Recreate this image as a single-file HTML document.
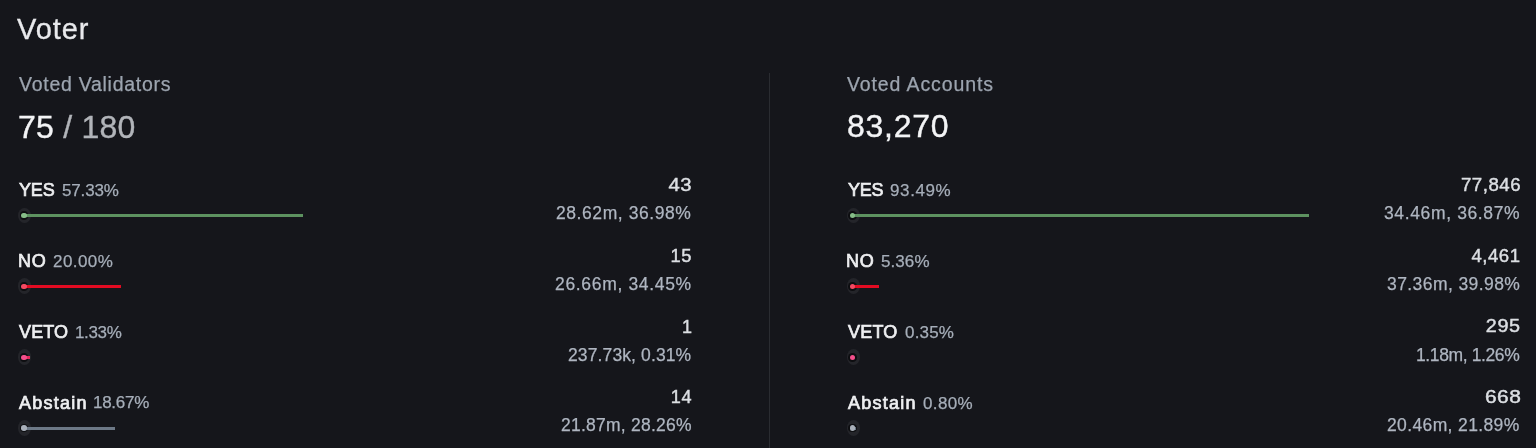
<!DOCTYPE html>
<html><head><meta charset="utf-8">
<style>
html,body{margin:0;padding:0;}
body{width:1536px;height:448px;background:#15161b;font-family:"Liberation Sans",sans-serif;position:relative;overflow:hidden;}
.a{position:absolute;white-space:nowrap;line-height:1;will-change:transform;}
.title{font-size:29px;-webkit-text-stroke:0.3px #e8e9ec;color:#e8e9ec;}
.sub{font-size:19.5px;-webkit-text-stroke:0.25px #9ca4af;color:#9ca4af;}
.bigL{font-size:32px;-webkit-text-stroke:0.4px currentColor;color:#f3f4f6;}
.bigR{font-size:32px;-webkit-text-stroke:0.4px currentColor;color:#f3f4f6;}
.lbl{font-size:18px;-webkit-text-stroke:0.7px #eeeff1;color:#eeeff1;}
.pct{font-size:17px;-webkit-text-stroke:0.25px #a6aeb9;color:#a6aeb9;}
.cnt{font-size:18px;-webkit-text-stroke:0.45px #dcdfe3;color:#dcdfe3;}
.amt{font-size:17.5px;-webkit-text-stroke:0.25px #afb6c1;color:#afb6c1;}
.dv{position:absolute;left:769px;top:72.5px;width:1px;height:376px;background:#2a2c31;}
.bar{position:absolute;height:3px;}
.ring{position:absolute;width:13px;height:15.5px;border-radius:50%;background:#24252a;}
.dot{position:absolute;width:5.6px;height:5.6px;border-radius:50%;}
.dbg{position:absolute;width:8.6px;height:8.6px;border-radius:50%;background:#0d0e11;}
</style></head><body>
<div class="dv"></div>
<div class="ring" style="left:18.30px;top:207.50px"></div>
<div class="dbg" style="left:19.60px;top:211.20px"></div>
<div class="bar" style="left:24.10px;top:214.00px;width:279.35px;background:#5d9260"></div>
<div class="dot" style="left:21.10px;top:212.70px;background:#86bd88"></div>
<div class="ring" style="left:18.30px;top:278.40px"></div>
<div class="dbg" style="left:19.60px;top:282.10px"></div>
<div class="bar" style="left:24.10px;top:284.90px;width:96.99px;background:#e30b22"></div>
<div class="dot" style="left:21.10px;top:283.60px;background:#f44a62"></div>
<div class="ring" style="left:18.30px;top:349.30px"></div>
<div class="dbg" style="left:19.60px;top:353.00px"></div>
<div class="bar" style="left:24.10px;top:355.80px;width:5.79px;background:#e82a5c"></div>
<div class="dot" style="left:21.10px;top:354.50px;background:#f4508c"></div>
<div class="ring" style="left:18.30px;top:420.20px"></div>
<div class="dbg" style="left:19.60px;top:423.90px"></div>
<div class="bar" style="left:24.10px;top:426.70px;width:90.49px;background:#6d7987"></div>
<div class="dot" style="left:21.10px;top:425.40px;background:#a9b0ba"></div>
<div class="ring" style="left:846.80px;top:207.50px"></div>
<div class="dbg" style="left:848.10px;top:211.20px"></div>
<div class="bar" style="left:852.60px;top:214.00px;width:456.49px;background:#5d9260"></div>
<div class="dot" style="left:849.60px;top:212.70px;background:#86bd88"></div>
<div class="ring" style="left:846.80px;top:278.40px"></div>
<div class="dbg" style="left:848.10px;top:282.10px"></div>
<div class="bar" style="left:852.60px;top:284.90px;width:25.97px;background:#e30b22"></div>
<div class="dot" style="left:849.60px;top:283.60px;background:#f44a62"></div>
<div class="ring" style="left:846.80px;top:349.30px"></div>
<div class="dbg" style="left:848.10px;top:353.00px"></div>
<div class="bar" style="left:852.60px;top:355.80px;width:1.50px;background:#e82a5c"></div>
<div class="dot" style="left:849.60px;top:354.50px;background:#f4508c"></div>
<div class="ring" style="left:846.80px;top:420.20px"></div>
<div class="dbg" style="left:848.10px;top:423.90px"></div>
<div class="bar" style="left:852.60px;top:426.70px;width:3.70px;background:#6d7987"></div>
<div class="dot" style="left:849.60px;top:425.40px;background:#a9b0ba"></div>
<div id="title" class="a title" style="left:16.85px;top:15.27px;letter-spacing:0.93px;">Voter</div>
<div id="sub0" class="a sub" style="left:18.61px;top:75.32px;letter-spacing:0.73px;">Voted Validators</div>
<div id="big0" class="a bigL" style="left:18.35px;top:110.63px;letter-spacing:0.25px;">75<span style="color:#b1b4b9"> / 180</span></div>
<div id="lbl0_0" class="a lbl" style="left:18.74px;top:181.37px;letter-spacing:-0.19px;">YES</div>
<div id="pct0_0" class="a pct" style="left:62.15px;top:182.33px;letter-spacing:-0.16px;">57.33%</div>
<div id="cnt0_0" class="a cnt" style="right:843.72px;top:176.20px;letter-spacing:0.50px;transform:scaleX(1.1246);transform-origin:100% 50%;">43</div>
<div id="amt0_0" class="a amt" style="right:844.25px;top:205.32px;letter-spacing:0.57px;">28.62m, 36.98%</div>
<div id="lbl0_1" class="a lbl" style="left:17.82px;top:251.70px;letter-spacing:0.76px;">NO</div>
<div id="pct0_1" class="a pct" style="left:52.85px;top:252.89px;letter-spacing:0.44px;">20.00%</div>
<div id="cnt0_1" class="a cnt" style="right:843.54px;top:246.86px;letter-spacing:0.50px;transform:scaleX(1.0185);transform-origin:100% 50%;">15</div>
<div id="amt0_1" class="a amt" style="right:843.93px;top:275.76px;letter-spacing:0.67px;">26.66m, 34.45%</div>
<div id="lbl0_2" class="a lbl" style="left:18.62px;top:322.87px;letter-spacing:0.13px;">VETO</div>
<div id="pct0_2" class="a pct" style="left:74.78px;top:323.69px;letter-spacing:-0.35px;">1.33%</div>
<div id="cnt0_2" class="a cnt" style="right:844.41px;top:317.58px;letter-spacing:0.00px;transform:scaleX(1.0000);transform-origin:100% 50%;">1</div>
<div id="amt0_2" class="a amt" style="right:845.03px;top:346.80px;letter-spacing:0.12px;">237.73k, 0.31%</div>
<div id="lbl0_3" class="a lbl" style="left:18.91px;top:393.58px;letter-spacing:1.23px;">Abstain</div>
<div id="pct0_3" class="a pct" style="left:92.62px;top:394.46px;letter-spacing:-0.28px;">18.67%</div>
<div id="cnt0_3" class="a cnt" style="right:844.25px;top:388.36px;letter-spacing:0.50px;transform:scaleX(1.0068);transform-origin:100% 50%;">14</div>
<div id="amt0_3" class="a amt" style="right:844.17px;top:417.42px;letter-spacing:0.24px;">21.87m, 28.26%</div>
<div id="sub1" class="a sub" style="left:847.43px;top:75.32px;letter-spacing:0.89px;">Voted Accounts</div>
<div id="big1" class="a bigR" style="left:847.43px;top:110.18px;letter-spacing:0.74px;">83,270</div>
<div id="lbl1_0" class="a lbl" style="left:847.53px;top:181.14px;letter-spacing:-0.20px;">YES</div>
<div id="pct1_0" class="a pct" style="left:890.11px;top:182.29px;letter-spacing:0.61px;">93.49%</div>
<div id="cnt1_0" class="a cnt" style="right:15.35px;top:176.21px;letter-spacing:0.50px;transform:scaleX(1.0363);transform-origin:100% 50%;">77,846</div>
<div id="amt1_0" class="a amt" style="right:15.50px;top:205.24px;letter-spacing:0.63px;">34.46m, 36.87%</div>
<div id="lbl1_1" class="a lbl" style="left:846.38px;top:251.66px;letter-spacing:0.79px;">NO</div>
<div id="pct1_1" class="a pct" style="left:880.96px;top:252.82px;letter-spacing:0.08px;">5.36%</div>
<div id="cnt1_1" class="a cnt" style="right:15.70px;top:246.86px;letter-spacing:0.50px;transform:scaleX(1.0314);transform-origin:100% 50%;">4,461</div>
<div id="amt1_1" class="a amt" style="right:15.81px;top:275.76px;letter-spacing:0.42px;">37.36m, 39.98%</div>
<div id="lbl1_2" class="a lbl" style="left:847.51px;top:322.89px;letter-spacing:0.21px;">VETO</div>
<div id="pct1_2" class="a pct" style="left:904.83px;top:323.69px;letter-spacing:0.18px;">0.35%</div>
<div id="cnt1_2" class="a cnt" style="right:15.00px;top:317.40px;letter-spacing:0.50px;transform:scaleX(1.0994);transform-origin:100% 50%;">295</div>
<div id="amt1_2" class="a amt" style="right:16.61px;top:346.63px;letter-spacing:-0.39px;">1.18m, 1.26%</div>
<div id="lbl1_3" class="a lbl" style="left:848.08px;top:393.58px;letter-spacing:1.24px;">Abstain</div>
<div id="pct1_3" class="a pct" style="left:922.94px;top:394.59px;letter-spacing:0.38px;">0.80%</div>
<div id="cnt1_3" class="a cnt" style="right:14.80px;top:388.22px;letter-spacing:0.50px;transform:scaleX(1.1623);transform-origin:100% 50%;">668</div>
<div id="amt1_3" class="a amt" style="right:15.89px;top:417.41px;letter-spacing:0.37px;">20.46m, 21.89%</div>
</body></html>
